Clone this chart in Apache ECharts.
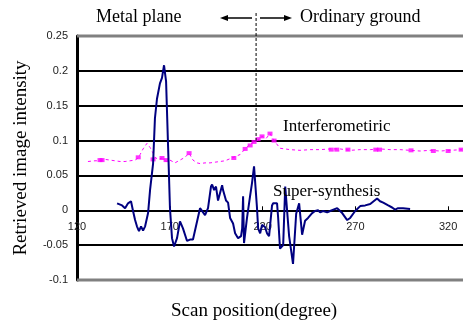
<!DOCTYPE html>
<html><head><meta charset="utf-8">
<script src="https://cdn.jsdelivr.net/npm/echarts@6/dist/echarts.min.js"></script>
<style>html,body{margin:0;padding:0;background:#fff}#c{width:463px;height:327px}</style>
</head><body><div id="c"></div>
<script>
var yTicks = [-0.1, -0.05, 0, 0.05, 0.1, 0.15, 0.2, 0.25];
var xTicks = [120, 170, 220, 270, 320];

var superX = [141.6,144.3,145.9,147.5,149.1,150.2,151.3,152.3,153.4,154.5,155.6,156.7,158.3,159.4,161.0,162.0,163.1,164.7,165.8,166.9,168.0,169.1,170.1,171.2,172.3,173.9,175.5,177.1,179.3,180.9,182.5,186.3,189.0,190.6,192.2,192.8,193.9,194.9,196.0,198.2,198.7,200.3,201.4,202.5,204.1,205.2,206.8,208.4,209.0,209.5,210.0,211.6,213.3,214.3,215.4,217.0,217.6,218.7,219.7,221.3,222.4,223.5,225.1,225.7,227.8,228.4,229.4,231.1,232.2,234.3,236.4,238.1,239.7,241.3,242.9,244.5,246.7,248.3,249.9,251.0,252.6,254.8,256.4,260.2,262.9,265.6,267.2,269.9,272.6,275.3,278.0,281.7,283.3,285.0,287.7,289.8,291.4,293.0,295.7,299.5];
var superY = [0.010,0.007,0.003,0.010,0.013,-0.001,-0.014,-0.023,-0.030,-0.023,-0.029,-0.023,-0.004,0.030,0.067,0.132,0.160,0.182,0.190,0.208,0.185,0.090,0.003,-0.040,-0.052,-0.040,-0.016,-0.026,-0.044,-0.042,-0.042,0.003,-0.007,0.003,0.034,0.037,0.029,0.034,0.014,0.036,0.029,0.014,0.011,-0.011,-0.019,-0.033,-0.040,-0.037,-0.026,0.020,-0.047,-0.011,0.021,0.039,0.063,0.003,-0.026,-0.033,-0.021,-0.024,-0.033,-0.037,0.007,0.010,0.010,-0.011,-0.055,-0.050,0.034,-0.037,-0.077,-0.005,0.010,-0.035,-0.015,-0.011,-0.004,-0.001,0.000,-0.003,-0.001,-0.003,-0.001,0.003,-0.004,-0.014,-0.011,-0.001,0.006,0.007,0.009,0.017,0.013,0.011,0.007,0.004,0.001,0.003,0.003,0.002];

var interfX = [125.9,129.7,132.4,135.1,137.8,140.5,143.2,145.9,148.6,151.3,152.9,154.0,155.6,157.7,159.4,161.0,162.0,163.7,165.8,168.0,170.1,172.8,175.5,178.2,180.4,182.5,184.7,186.3,189.0,191.7,194.4,197.1,199.8,202.5,205.2,207.9,210.6,213.3,215.4,217.6,219.7,221.9,224.0,226.2,229.4,234.8,240.2,245.6,251.0,256.4,261.8,267.2,272.6,278.0,283.3,288.7,294.1,299.5,304.9,310.3,315.7,321.1,327.5];
var interfY = [0.070,0.071,0.071,0.073,0.072,0.071,0.070,0.070,0.071,0.072,0.075,0.080,0.088,0.096,0.090,0.082,0.076,0.073,0.075,0.070,0.072,0.068,0.072,0.076,0.082,0.072,0.068,0.067,0.068,0.068,0.069,0.070,0.071,0.074,0.077,0.080,0.088,0.095,0.098,0.101,0.106,0.103,0.110,0.100,0.089,0.087,0.086,0.087,0.087,0.088,0.088,0.086,0.087,0.087,0.088,0.087,0.087,0.086,0.085,0.086,0.085,0.086,0.087];

var markX = [132.4,133.5,153.0,161.0,165.8,168.0,180.4,204.5,210.6,213.3,215.4,217.6,219.7,224.0,226.2,257.0,260.0,266.0,281.0,283.0,300.0,312.0,320.0,327.0];
var markY = [0.072,0.072,0.076,0.073,0.075,0.072,0.082,0.075,0.088,0.093,0.098,0.102,0.106,0.110,0.100,0.087,0.087,0.087,0.087,0.087,0.086,0.085,0.085,0.087];

function pairs(xs, ys){ return xs.map(function(x,i){ return [x, ys[i]]; }); }

var chart = echarts.init(document.getElementById('c'), null, {renderer:'canvas'});
var serif = '"Liberation Serif","DejaVu Serif",serif';
var sans = '"Liberation Sans",Arial,sans-serif';

var gridTop = 36, gridBottom = 47, H = 327;
var plotH = H - gridTop - gridBottom;
var zeroOffset = -plotH * 0.1 / 0.35;

chart.setOption({
  animation:false,
  backgroundColor:'#fff',
  grid:{left:77, right:0, top:gridTop, bottom:gridBottom, containLabel:false, outerBoundsMode:'none'},
  xAxis:{
    type:'value', min:120, max:328, interval:50, position:'bottom', offset:zeroOffset,
    axisLine:{onZero:false, lineStyle:{color:'#000', width:2}},
    axisTick:{show:true, inside:true, length:4, lineStyle:{color:'#000'}},
    axisLabel:{color:'#222', fontFamily:sans, fontSize:11, margin:11,
      formatter:function(v){ return xTicks.indexOf(v)>=0 ? String(v) : ''; }},
    splitLine:{show:false}
  },
  yAxis:{
    type:'value', min:-0.1, max:0.25, interval:0.05,
    axisLine:{show:true, lineStyle:{color:'#000', width:3}},
    axisTick:{show:false},
    axisLabel:{color:'#222', fontFamily:sans, fontSize:11, margin:9,
      formatter:function(v){ var r=Math.round(v*100)/100; return yTicks.indexOf(r)>=0 ? String(r) : ''; }},
    splitLine:{show:true, lineStyle:{color:'#000', width:2}},
    name:'Retrieved image intensity', nameLocation:'middle', nameGap:46, nameRotate:90,
    nameTextStyle:{fontFamily:serif, fontSize:19, color:'#000'}
  },
  series:[
    {type:'line', data:pairs(interfX, interfY), showSymbol:false, z:2,
     lineStyle:{color:'#ff00ff', width:1, type:[3,3]}},
    {type:'scatter', data:pairs(markX, markY), symbol:'rect', symbolSize:[5,4], z:3,
     itemStyle:{color:'#ff00ff'}},
    {type:'line', data:pairs(superX, superY), showSymbol:false, z:4,
     lineStyle:{color:'#000080', width:2}}
  ]
});

var p0 = chart.convertToPixel({gridIndex:0}, [120, 0.25]);
var pB = chart.convertToPixel({gridIndex:0}, [120, -0.1]);
var pR = chart.convertToPixel({gridIndex:0}, [328, 0.25]);
var pd = chart.convertToPixel({gridIndex:0}, [216.5, 0.1]);

chart.setOption({
  graphic:[
    {type:'line', shape:{x1:p0[0], y1:p0[1], x2:pR[0], y2:pR[1]}, style:{stroke:'#808080', lineWidth:3}, z:10},
    {type:'line', shape:{x1:pB[0], y1:pB[1], x2:pR[0], y2:pB[1]}, style:{stroke:'#808080', lineWidth:3}, z:10},
    {type:'line', shape:{x1:pd[0], y1:13, x2:pd[0], y2:pd[1]}, style:{stroke:'#000', lineWidth:1, lineDash:[3,2]}, z:10},
    {type:'text', left:96, top:8, style:{text:'Metal plane', font:'18px '+serif, fill:'#000'}},
    {type:'text', left:300, top:8, style:{text:'Ordinary ground', font:'18px '+serif, fill:'#000'}},
    {type:'line', shape:{x1:224, y1:18, x2:252, y2:18}, style:{stroke:'#000', lineWidth:1.5}},
    {type:'polygon', shape:{points:[[220,18],[228,15],[228,21]]}, style:{fill:'#000'}},
    {type:'line', shape:{x1:260, y1:18, x2:288, y2:18}, style:{stroke:'#000', lineWidth:1.5}},
    {type:'polygon', shape:{points:[[292,18],[284,15],[284,21]]}, style:{fill:'#000'}},
    {type:'text', left:283, top:118, style:{text:'Interferometiric', font:'17px '+serif, fill:'#000'}, z:20},
    {type:'text', left:273, top:183, style:{text:'Super-synthesis', font:'17px '+serif, fill:'#000'}, z:20},
    {type:'text', left:171, top:302, style:{text:'Scan position(degree)', font:'19px '+serif, fill:'#000'}}
  ]
});
</script>
</body></html>
